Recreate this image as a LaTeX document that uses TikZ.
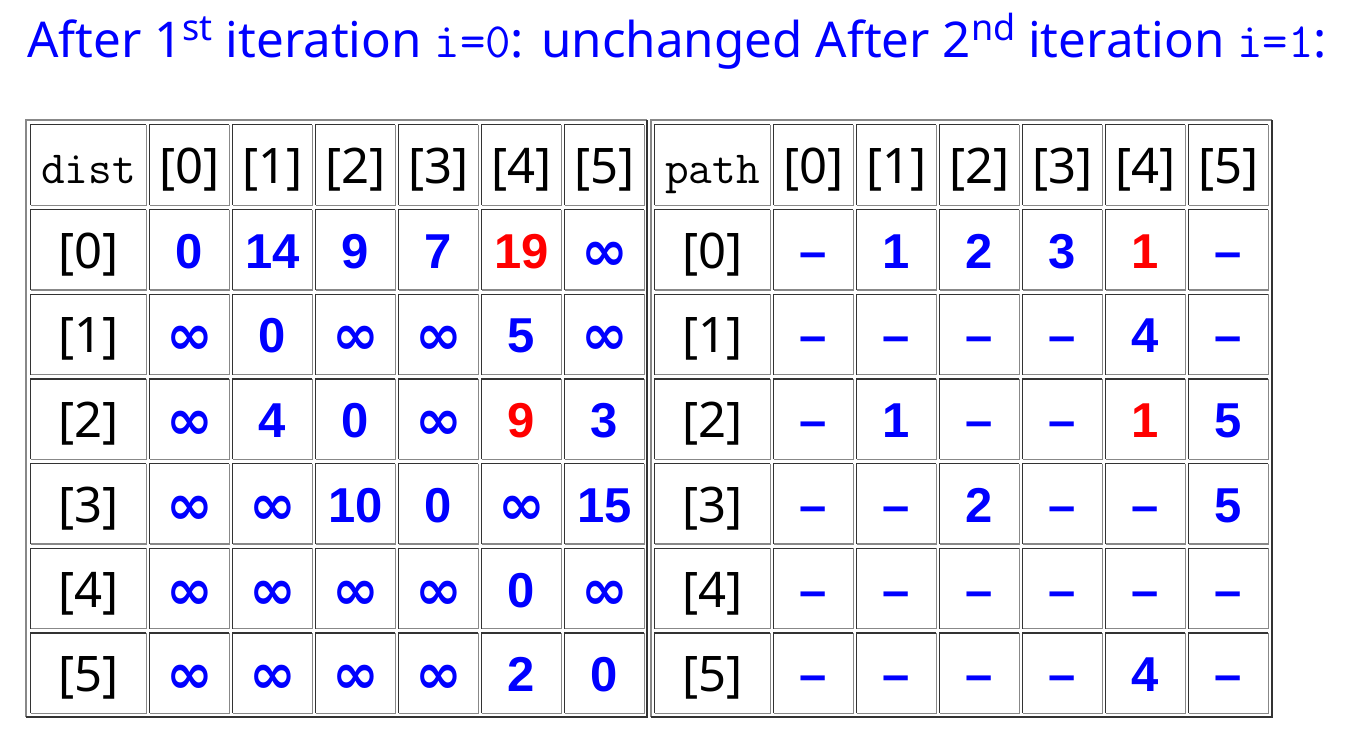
\documentclass[tikz,border=0pt]{standalone}
\usepackage{fontspec}
\setmainfont{Noto Sans}
\newfontfamily\datafont{Liberation Sans}
\newfontfamily\symfont{DejaVu Sans}
\usepackage{tikz}
\usetikzlibrary{calc,positioning}
\definecolor{linkblue}{RGB}{0,0,255}
\definecolor{hotred}{RGB}{255,0,0}
\definecolor{lightrule}{RGB}{136,136,136}
\definecolor{darkrule}{RGB}{51,51,51}
\newcommand{\hot}[1]{\textcolor{hotred}{#1}}
\newcommand{\unreach}{\raisebox{-2pt}{\scalebox{1.22}{\symfont\bfseries\fontsize{46}{46}\selectfont ∞}}}
\newcommand{\ord}[1]{\raisebox{17pt}{\fontsize{36}{36}\selectfont #1}}
% bevelled cell border: dark top/left, light bottom/right
\newcommand{\bevel}[1]{%
  \draw[darkline] (#1.south west) -- (#1.north west) -- (#1.north east);
  \draw[lightline] (#1.north east) -- (#1.south east) -- (#1.south west);}
\tikzset{
x=1pt, y=-1pt, % one unit is one pixel of the reference, y runs down
darkline/.style={draw=darkrule, line width=1.3pt},
lightline/.style={draw=lightrule, line width=1.3pt},
cellbox/.style={minimum height=80pt, inner sep=0pt, text height=37pt, text depth=0pt},
labelbox/.style={cellbox, minimum width=115pt, text=black, font=\fontsize{49}{49}\selectfont},
headbox/.style={labelbox, font=\ttfamily\fontsize{46}{46}\selectfont},
databox/.style={cellbox, minimum width=79pt, text=linkblue, font=\datafont\bfseries\fontsize{49}{49}\selectfont},
}

\begin{document}
\begin{tikzpicture}
   \useasboundingbox (0,0) rectangle (1356,734);
   \node[anchor=base west, inner sep=0pt, text=linkblue, font=\fontsize{49.3}{50}\selectfont] (title) at (27,57)
      {After 1\ord{st} iteration {\ttfamily i=0}: unchanged After 2\ord{nd} iteration {\ttfamily i=1}:};

   % outer frames
   \draw[lightline, line width=2pt] (26,717) |- (647,120);
   \draw[darkline, line width=2pt] (26,717) -| (647,120);
   \draw[lightline, line width=2pt] (651,717) |- (1272,120);
   \draw[darkline, line width=2pt] (651,717) -| (1272,120);

   % header rows
   \node[headbox] (dist_h) at (88.5,165) {dist};
   \bevel{dist_h}
   \node[headbox] (path_h) at (712.5,165) {path};
   \bevel{path_h}
   \foreach \c in {0,...,5}{
      \node[labelbox, minimum width=79pt] (dist_h_\c) at (189.5+83*\c,165) {[\c]};
      \bevel{dist_h_\c}
      \node[labelbox, minimum width=79pt] (path_h_\c) at (813.5+83*\c,165) {[\c]};
      \bevel{path_h_\c}
   }

   % dist table
   \foreach \r/\vals in {0/{0,14,9,7,\hot{19},\unreach}, 1/{\unreach,0,\unreach,\unreach,5,\unreach},
                         2/{\unreach,4,0,\unreach,\hot{9},3}, 3/{\unreach,\unreach,10,0,\unreach,15},
                         4/{\unreach,\unreach,\unreach,\unreach,0,\unreach}, 5/{\unreach,\unreach,\unreach,\unreach,2,0}}{
      \node[labelbox] (dist_\r) at (88.5,249.7+84.7*\r) {[\r]};
      \bevel{dist_\r}
      \foreach \v [count=\c from 0] in \vals{
         \node[databox] (dist_\r_\c) at (189.5+83*\c,249.7+84.7*\r) {\v};
         \bevel{dist_\r_\c}
      }
   }

   % path table
   \foreach \r/\vals in {0/{–,1,2,3,\hot{1},–}, 1/{–,–,–,–,4,–}, 2/{–,1,–,–,\hot{1},5},
                         3/{–,–,2,–,–,5}, 4/{–,–,–,–,–,–}, 5/{–,–,–,–,4,–}}{
      \node[labelbox] (path_\r) at (712.5,249.7+84.7*\r) {[\r]};
      \bevel{path_\r}
      \foreach \v [count=\c from 0] in \vals{
         \node[databox] (path_\r_\c) at (813.5+83*\c,249.7+84.7*\r) {\v};
         \bevel{path_\r_\c}
      }
   }
\end{tikzpicture}
\end{document}
